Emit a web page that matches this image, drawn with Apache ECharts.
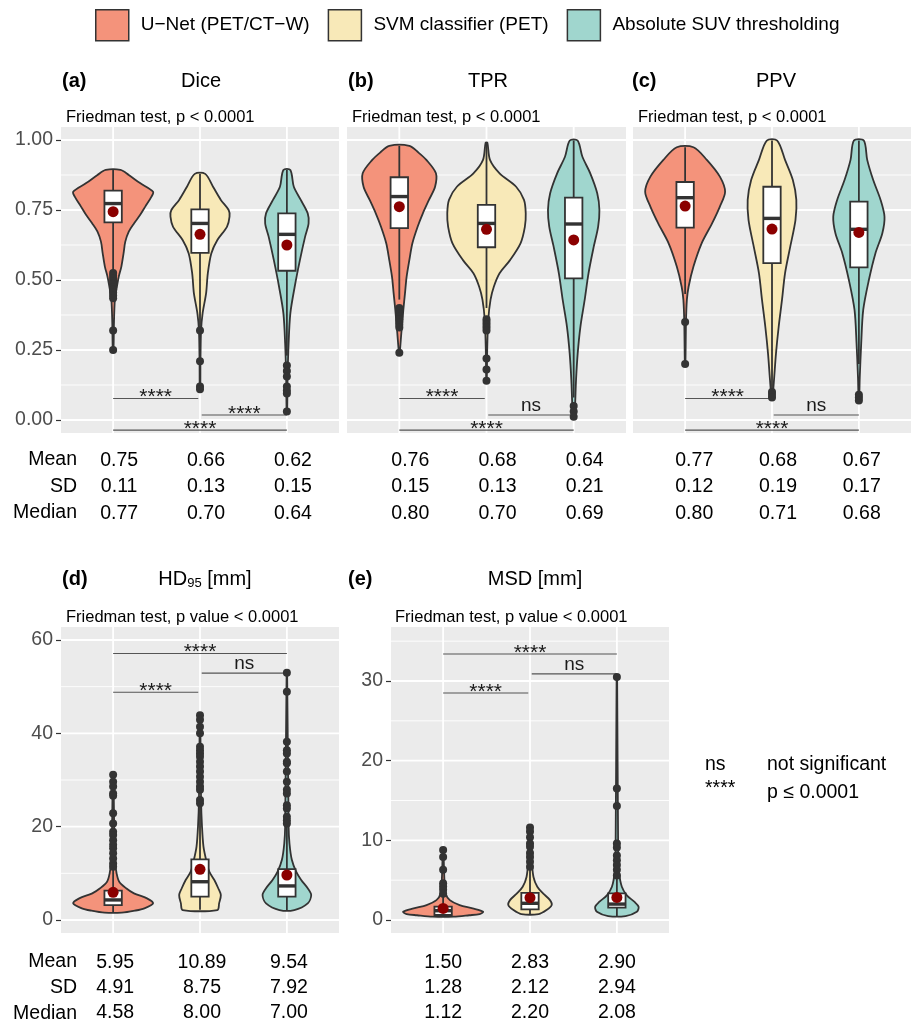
<!DOCTYPE html>
<html><head><meta charset="utf-8">
<script src="https://cdn.jsdelivr.net/npm/echarts@6/dist/echarts.min.js"></script>
<style>html,body{margin:0;padding:0;background:#fff}#c{width:912px;height:1025px}</style>
</head><body><div id="c"></div>
<script>
const groups = ["U−Net (PET/CT−W)", "SVM classifier (PET)", "Absolute SUV thresholding"];

// ---- Dice ----
const diceViolin = [
  [[0.893,0.085],[0.875,0.18],[0.846,0.31],[0.815,0.46],[0.797,0.44],[0.762,0.37],[0.732,0.31],[0.702,0.24],[0.673,0.18],[0.637,0.14],[0.595,0.12],[0.548,0.095],[0.512,0.065],[0.47,0.04],[0.43,0.02],[0.35,0.01],[0.25,0.004]],
  [[0.879,0.06],[0.833,0.15],[0.786,0.24],[0.75,0.33],[0.726,0.34],[0.69,0.31],[0.643,0.2],[0.595,0.13],[0.524,0.09],[0.452,0.07],[0.381,0.03],[0.32,0.012],[0.2,0.005],[0.11,0.003]],
  [[0.893,0.04],[0.833,0.08],[0.786,0.16],[0.738,0.24],[0.702,0.25],[0.655,0.21],[0.571,0.15],[0.476,0.09],[0.381,0.04],[0.274,0.02],[0.15,0.008],[0.03,0.003]]
];
const diceBox = [[0.53,0.706,0.773,0.819,0.893],[0.33,0.597,0.702,0.752,0.879],[0.23,0.533,0.663,0.738,0.893]];
const diceMean = [0.744,0.663,0.625];
const diceOutliers = [[0.525,0.515,0.505,0.495,0.485,0.475,0.465,0.455,0.445,0.435,0.32,0.25],[0.32,0.21,0.12,0.11],[0.195,0.175,0.155,0.12,0.105,0.095,0.03]];
const diceBrackets = [[1,1.98,0.077,"****"],[2.02,3,0.018,"****"],[1,3,-0.036,"****"]];
const diceMeanTxt = ["0.75","0.66","0.62"], diceSdTxt = ["0.11","0.13","0.15"], diceMedTxt = ["0.77","0.70","0.64"];

// ---- TPR ----
const tprViolin = [
  [[0.979,0.115],[0.955,0.22],[0.929,0.31],[0.881,0.42],[0.833,0.41],[0.786,0.34],[0.738,0.27],[0.69,0.21],[0.631,0.15],[0.571,0.115],[0.512,0.084],[0.452,0.065],[0.393,0.046],[0.31,0.023],[0.238,0.004]],
  [[0.99,0.01],[0.929,0.04],[0.881,0.15],[0.833,0.34],[0.786,0.43],[0.738,0.45],[0.69,0.44],[0.631,0.39],[0.571,0.27],[0.524,0.15],[0.476,0.084],[0.429,0.046],[0.357,0.02],[0.25,0.008],[0.137,0.003]],
  [[0.998,0.045],[0.94,0.1],[0.881,0.19],[0.81,0.27],[0.75,0.295],[0.69,0.28],[0.619,0.23],[0.524,0.17],[0.429,0.126],[0.333,0.077],[0.238,0.046],[0.143,0.027],[0.048,0.015],[0.012,0.005]]
];
const tprBox = [[0.43,0.685,0.798,0.867,0.979],[0.4,0.617,0.702,0.768,0.99],[0.08,0.506,0.70,0.794,0.998]];
const tprMean = [0.762,0.681,0.643];
const tprOutliers = [[0.40,0.39,0.38,0.37,0.36,0.35,0.34,0.33,0.24],[0.36,0.35,0.34,0.33,0.32,0.22,0.18,0.14],[0.05,0.03,0.012]];
const tprBrackets = [[1,1.98,0.077,"****"],[2.02,3,0.018,"ns"],[1,3,-0.036,"****"]];
const tprMeanTxt = ["0.76","0.68","0.64"], tprSdTxt = ["0.15","0.13","0.21"], tprMedTxt = ["0.80","0.70","0.69"];

// ---- PPV ----
const ppvViolin = [
  [[0.974,0.096],[0.929,0.25],[0.869,0.4],[0.815,0.46],[0.762,0.4],[0.702,0.31],[0.631,0.19],[0.548,0.096],[0.476,0.04],[0.429,0.02],[0.35,0.01],[0.2,0.003]],
  [[0.998,0.06],[0.929,0.15],[0.857,0.24],[0.786,0.28],[0.714,0.27],[0.619,0.21],[0.524,0.15],[0.429,0.115],[0.333,0.077],[0.238,0.046],[0.143,0.023],[0.08,0.005]],
  [[0.998,0.057],[0.929,0.096],[0.857,0.165],[0.786,0.25],[0.726,0.295],[0.667,0.27],[0.595,0.19],[0.5,0.115],[0.393,0.05],[0.274,0.027],[0.15,0.01],[0.069,0.003]]
];
const ppvBox = [[0.45,0.687,0.794,0.85,0.974],[0.1,0.56,0.72,0.833,0.998],[0.2,0.545,0.681,0.78,0.998]];
const ppvMean = [0.764,0.682,0.67];
const ppvOutliers = [[0.35,0.2],[0.10,0.09,0.08],[0.09,0.08,0.07]];
const ppvBrackets = [[1,1.98,0.077,"****"],[2.02,3,0.018,"ns"],[1,3,-0.036,"****"]];
const ppvMeanTxt = ["0.77","0.68","0.67"], ppvSdTxt = ["0.12","0.19","0.17"], ppvMedTxt = ["0.80","0.71","0.68"];

// ---- HD95 ----
const hdViolin = [
  [[31.1,0.003],[20,0.012],[12.9,0.02],[10,0.04],[8.2,0.07],[6.8,0.15],[5.7,0.24],[4.64,0.39],[3.57,0.46],[2.5,0.36],[2.0,0.25],[1.57,0.1]],
  [[43.9,0.003],[25.7,0.012],[20,0.023],[15.7,0.04],[12.9,0.07],[10.36,0.107],[8.57,0.165],[6.8,0.21],[5.36,0.24],[3.57,0.22],[2.14,0.2]],
  [[53,0.003],[20,0.02],[16.4,0.03],[12.9,0.057],[10.36,0.107],[8.57,0.165],[6.8,0.24],[5.36,0.28],[3.57,0.24],[2.14,0.085]]
];
const hdBox = [[1.6,3.2,4.3,6.3,11],[2.2,5,8.2,13,25],[2.1,5,7.3,10.9,20]];
const hdMean = [5.93,10.86,9.64];
const hdOutliers = [
  [31.1,29.6,28.6,27.1,26.6,22.9,20.7,18.9,18.2,17.1,16.1,15.4,14.3,13.2,12.1,11.4],
  [43.9,42.9,41.4,40,37.1,36.4,35.7,35,33.9,32.9,31.8,30.7,29.6,28.6,27.9,25.7,25],
  [53,48.9,38.2,36.4,35.7,33.9,33.6,31.8,29.6,27.9,27.1,24.6,23.9,22.1,21.4,20.7]
];
const hdBrackets = [[1,1.98,48.8,"****"],[2.02,3,52.9,"ns"],[1,3,57.1,"****"]];
const hdMeanTxt = ["5.95","10.89","9.54"], hdSdTxt = ["4.91","8.75","7.92"], hdMedTxt = ["4.58","8.00","7.00"];

// ---- MSD ----
const msdViolin = [
  [[8.8,0.003],[5,0.015],[3.3,0.03],[2.5,0.077],[1.88,0.19],[1.46,0.34],[1.04,0.46],[0.75,0.42],[0.6,0.3],[0.42,0.12]],
  [[11.6,0.003],[7.5,0.02],[5.4,0.04],[4.18,0.084],[3.34,0.15],[2.5,0.23],[1.88,0.25],[1.25,0.19],[0.75,0.1]],
  [[30.5,0.003],[8.4,0.015],[5.85,0.027],[4.18,0.057],[3.1,0.115],[2.3,0.2],[1.67,0.25],[1.04,0.23],[0.5,0.1]]
];
const msdBox = [[0.42,0.63,1.17,1.67,3.0],[0.75,1.34,2.1,3.4,6.4],[0.5,1.55,2.0,3.34,5.5]];
const msdMean = [1.46,2.8,2.84];
const msdOutliers = [[8.8,7.9,6.3,4.6,4.2,3.8,3.3],[11.6,11.1,10.4,9.6,9.2,8.4,7.9,7.3,6.7],[30.5,16.5,14.3,9.6,9.1,8.1,7.5,6.9,6.3,5.6]];
const msdBrackets = [[1,1.98,28.5,"****"],[2.02,3,30.9,"ns"],[1,3,33.4,"****"]];
const msdMeanTxt = ["1.50","2.83","2.90"], msdSdTxt = ["1.28","2.12","2.94"], msdMedTxt = ["1.12","2.20","2.08"];

// ---- axis ticks ----
const diceTicks = [0,0.25,0.5,0.75,1.0], diceMinor = [0.125,0.375,0.625,0.875];
const hdTicks = [0,20,40,60], hdMinor = [10,30,50];
const msdTicks = [0,10,20,30], msdMinor = [5,15,25,35];
const rowNames = ["Mean","SD","Median"];

const FONT = "'Liberation Sans', Arial, Helvetica, sans-serif";
const fills = ['#F4937B','#F8E9B8','#A0D6CE'];
const DARK = '#333333';

const panels = [
  {v:diceViolin,b:diceBox,m:diceMean,o:diceOutliers,br:diceBrackets,t:[diceMeanTxt,diceSdTxt,diceMedTxt],major:diceTicks,minor:diceMinor,min:-0.0464,max:1.0464,grid:{left:61,top:127,width:278,height:306},tab:{left:67,top:447},labels:true,fmt:v=>v.toFixed(2)},
  {v:tprViolin,b:tprBox,m:tprMean,o:tprOutliers,br:tprBrackets,t:[tprMeanTxt,tprSdTxt,tprMedTxt],major:diceTicks,minor:diceMinor,min:-0.0464,max:1.0464,grid:{left:347,top:127,width:279,height:306},tab:{left:358,top:447},labels:false,fmt:v=>v.toFixed(2)},
  {v:ppvViolin,b:ppvBox,m:ppvMean,o:ppvOutliers,br:ppvBrackets,t:[ppvMeanTxt,ppvSdTxt,ppvMedTxt],major:diceTicks,minor:diceMinor,min:-0.0464,max:1.0464,grid:{left:633,top:127,width:278,height:306},tab:{left:644,top:447},labels:false,fmt:v=>v.toFixed(2)},
  {v:hdViolin,b:hdBox,m:hdMean,o:hdOutliers,br:hdBrackets,t:[hdMeanTxt,hdSdTxt,hdMedTxt],major:hdTicks,minor:hdMinor,min:-2.786,max:62.786,grid:{left:61,top:627,width:278,height:306},tab:{left:63,top:950},labels:true,fmt:v=>String(v)},
  {v:msdViolin,b:msdBox,m:msdMean,o:msdOutliers,br:msdBrackets,t:[msdMeanTxt,msdSdTxt,msdMedTxt],major:msdTicks,minor:msdMinor,min:-1.63,max:36.78,grid:{left:391,top:627,width:278,height:306},tab:{left:391,top:950},labels:true,fmt:v=>String(v)}
];

const grid = [], xAxis = [], yAxis = [], series = [];
panels.forEach((P, pi) => {
  grid.push(Object.assign({show:true, backgroundColor:'#EBEBEB', borderWidth:0}, P.grid));
  xAxis.push({gridIndex:pi, type:'value', min:0.4, max:3.6, show:false});
  yAxis.push({gridIndex:pi, type:'value', min:P.min, max:P.max, show:P.labels,
    axisLine:{show:false}, splitLine:{show:false},
    axisTick:{show:true, length:5, lineStyle:{color:DARK, width:1.2}, customValues:P.major},
    axisLabel:{customValues:P.major, formatter:P.fmt, color:'#4D4D4D', fontSize:19.5, fontFamily:FONT, margin:8}});
  // gridlines
  const gl = [];
  P.major.forEach(v => gl.push([0, v]));
  P.minor.forEach(v => gl.push([1, v]));
  [1,2,3].forEach(v => gl.push([2, v]));
  series.push({type:'custom', xAxisIndex:pi, yAxisIndex:pi, silent:true, z:1, data:gl,
    renderItem:(params, api) => {
      const cs = params.coordSys, kind = api.value(0), v = api.value(1);
      if (kind === 2) {
        const p = api.coord([v, P.min]);
        return {type:'line', shape:{x1:p[0], y1:cs.y, x2:p[0], y2:cs.y+cs.height}, style:{stroke:'#fff', lineWidth:1.8}};
      }
      const p = api.coord([1, v]);
      return {type:'line', shape:{x1:cs.x, y1:p[1], x2:cs.x+cs.width, y2:p[1]}, style:{stroke:'#fff', lineWidth: kind === 0 ? 1.8 : 0.9}};
    }});
  // violins
  P.v.forEach((prof, g) => {
    series.push({type:'custom', name:groups[g], xAxisIndex:pi, yAxisIndex:pi, z:2, silent:true,
      itemStyle:{color:fills[g], borderColor:DARK, borderWidth:1.5},
      data:[[g+1, prof[0][0]]],
      renderItem:(params, api) => {
        const pts = [];
        prof.forEach(([y, hw]) => pts.push(api.coord([g+1+hw, y])));
        for (let i = prof.length-1; i >= 0; i--) pts.push(api.coord([g+1-prof[i][1], prof[i][0]]));
        return {type:'polygon', shape:{points:pts, smooth:0.3}, style:{fill:fills[g], stroke:DARK, lineWidth:1.8}};
      }});
  });
  // boxes
  series.push({type:'custom', xAxisIndex:pi, yAxisIndex:pi, z:3, silent:true,
    data:P.b.map((b, g) => [g+1].concat(b)),
    renderItem:(params, api) => {
      const c = api.value(0), lo = api.value(1), q1 = api.value(2), md = api.value(3), q3 = api.value(4), hi = api.value(5);
      const w = 0.1;
      const a = api.coord([c, lo]), b = api.coord([c, hi]);
      const tl = api.coord([c-w, q3]), br = api.coord([c+w, q1]);
      const ml = api.coord([c-w, md]), mr = api.coord([c+w, md]);
      return {type:'group', children:[
        {type:'line', shape:{x1:a[0], y1:a[1], x2:b[0], y2:b[1]}, style:{stroke:DARK, lineWidth:1.8}},
        {type:'rect', shape:{x:tl[0], y:tl[1], width:br[0]-tl[0], height:br[1]-tl[1]}, style:{fill:'#fff', stroke:DARK, lineWidth:1.8}},
        {type:'line', shape:{x1:ml[0], y1:ml[1], x2:mr[0], y2:mr[1]}, style:{stroke:DARK, lineWidth:3.4}}
      ]};
    }});
  // outliers
  const od = [];
  P.o.forEach((arr, g) => arr.forEach(v => od.push([g+1, v])));
  series.push({type:'scatter', xAxisIndex:pi, yAxisIndex:pi, z:4, silent:true, symbolSize:8, itemStyle:{color:DARK, opacity:1}, data:od});
  // means
  series.push({type:'scatter', xAxisIndex:pi, yAxisIndex:pi, z:5, silent:true, symbolSize:11, itemStyle:{color:'#8B0000', opacity:1}, data:P.m.map((m, g) => [g+1, m])});
  // brackets
  series.push({type:'custom', xAxisIndex:pi, yAxisIndex:pi, z:4, silent:true,
    data:P.br.map(b => [b[0], b[1], b[2]]),
    renderItem:(params, api) => {
      const x1 = api.value(0), x2 = api.value(1), y = api.value(2);
      const label = P.br[params.dataIndex][3];
      const p1 = api.coord([x1, y]), p2 = api.coord([x2, y]);
      const isStar = label.indexOf('*') >= 0;
      return {type:'group', children:[
        {type:'line', shape:{x1:p1[0], y1:p1[1], x2:p2[0], y2:p2[1]}, style:{stroke:'#555', lineWidth:1.1}},
        {type:'text', x:(p1[0]+p2[0])/2, y:p1[1] - (isStar ? 1 : 9),
          style:{text:label, fill:'#1a1a1a', font:(isStar ? '21px ' : '19px ') + FONT, align:'center', verticalAlign:'middle'}}
      ]};
    }});
});

// table grids
panels.forEach((P, pi) => {
  const gi = panels.length + pi;
  grid.push({left:P.tab.left, top:P.tab.top, width:P.grid.width, height:80, show:false});
  xAxis.push({gridIndex:gi, type:'value', min:0.4, max:3.6, show:false});
  yAxis.push({gridIndex:gi, type:'value', min:0, max:3, inverse:true, show:false});
  const td = [];
  P.t.forEach((row, r) => row.forEach((_, c) => td.push([c+1, r+0.5])));
  series.push({type:'custom', xAxisIndex:gi, yAxisIndex:gi, silent:true,
    data:td,
    renderItem:(params, api) => {
      const c = api.value(0), r = api.value(1);
      const p = api.coord([c, r]);
      const txt = P.t[Math.floor(r)][c-1];
      return {type:'text', x:p[0], y:p[1], style:{text:txt, fill:'#000', font:'19.5px ' + FONT, align:'center', verticalAlign:'middle'}};
    }});
});

function txt(text, x, y, size, opts) {
  return Object.assign({type:'text', x:x, y:y, silent:true,
    style:Object.assign({text:text, fill:'#000', font:size + 'px ' + FONT, align:'left', verticalAlign:'middle'}, opts || {})});
}
function bold(text, x, y) { return txt(text, x, y, 20, {font:'bold 20px ' + FONT}); }

const graphic = [
  bold('(a)', 62, 81), txt('Dice', 201, 81, 20, {align:'center'}),
  bold('(b)', 348, 81), txt('TPR', 488, 81, 20, {align:'center'}),
  bold('(c)', 632, 81), txt('PPV', 776, 81, 20, {align:'center'}),
  bold('(d)', 62, 579),
  {type:'text', x:205, y:579, silent:true, style:{text:'HD{s|95} [mm]', font:'20px ' + FONT, fill:'#000', align:'center', verticalAlign:'middle',
    rich:{s:{fontSize:13, fontFamily:FONT, fill:'#000', verticalAlign:'bottom', padding:[9,0,0,0]}}}},
  bold('(e)', 348, 579), txt('MSD [mm]', 535, 579, 20, {align:'center'}),
  txt('Friedman test, p < 0.0001', 66, 117, 16.5),
  txt('Friedman test, p < 0.0001', 352, 117, 16.5),
  txt('Friedman test, p < 0.0001', 638, 117, 16.5),
  txt('Friedman test, p value < 0.0001', 66, 617, 16.5),
  txt('Friedman test, p value < 0.0001', 395, 617, 16.5),
  txt('ns', 705, 765, 19.5), txt('not significant', 767, 765, 19.5),
  txt('****', 705, 789, 19.5), txt('p ≤ 0.0001', 767, 793, 19.5)
];
[460, 487, 513].forEach((y, r) => graphic.push(txt(rowNames[r], 77, y, 19.5, {align:'right'})));
[962, 988, 1014].forEach((y, r) => graphic.push(txt(rowNames[r], 77, y, 19.5, {align:'right'})));

const chart = echarts.init(document.getElementById('c'), null, {renderer:'canvas'});
chart.setOption({
  animation:false,
  backgroundColor:'#fff',
  textStyle:{fontFamily:FONT},
  legend:{left:90, top:4, itemWidth:33, itemHeight:31, itemGap:18, icon:'rect', selectedMode:false,
    data:groups,
    itemStyle:{borderColor:DARK, borderWidth:1.5},
    textStyle:{fontSize:19, color:'#000', fontFamily:FONT, padding:[0,0,0,7]}},
  grid:grid, xAxis:xAxis, yAxis:yAxis, series:series, graphic:graphic
});
</script></body></html>
